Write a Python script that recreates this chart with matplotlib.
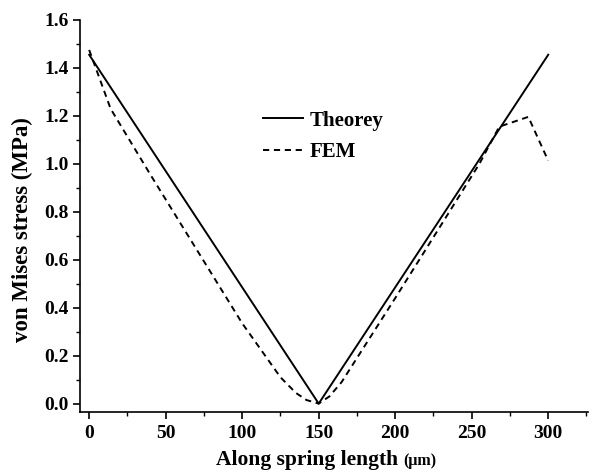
"""
Tensão de von Mises ao longo da mola: teoria x FEM.
"""

import matplotlib
matplotlib.use("Agg")
import matplotlib.pyplot as plt
from matplotlib.ticker import MultipleLocator

# dados
x_teoria = [0, 150, 300]
y_teoria = [1.455, 0.0, 1.455]

x_fem = [0, 14, 40, 70, 100, 125, 135, 142, 150,
         157, 165, 200, 230, 255, 268, 287, 300]
y_fem = [1.475, 1.23, 0.955, 0.645, 0.335, 0.11, 0.045, 0.015, 0.0,
         0.03, 0.09, 0.44, 0.745, 1.0, 1.155, 1.196, 1.013]

plt.rcParams['font.family'] = ['Liberation Serif', 'DejaVu Serif']
plt.rcParams['font.weight'] = 'bold'

fig = plt.figure(figsize=(5.92, 4.72), dpi=100)
ax = fig.add_axes([80 / 592, 1 - 412 / 472, 508 / 592, 392 / 472])

ax.plot(x_teoria, y_teoria, color='black', linewidth=1.4, label='Theorey')
ax.plot(x_fem, y_fem, color='black', linewidth=1.4, linestyle=(0, (3.2, 2.4)), label='FEM')

ax.set_xlim(-6, 326)
ax.set_ylim(-0.035, 1.6)

ax.xaxis.set_major_locator(MultipleLocator(50))
ax.xaxis.set_minor_locator(MultipleLocator(25))
ax.yaxis.set_major_locator(MultipleLocator(0.2))
ax.yaxis.set_minor_locator(MultipleLocator(0.1))
ax.yaxis.set_major_formatter(plt.FormatStrFormatter('%.1f'))

for lado in ['top', 'right']:
    ax.spines[lado].set_visible(False)
for lado in ['left', 'bottom']:
    ax.spines[lado].set_linewidth(1.2)

ax.tick_params(which='major', direction='out', length=5, width=1.2, labelsize=14)
ax.tick_params(which='minor', direction='out', length=3, width=1.0)
ax.tick_params(axis='x', which='major', pad=4)
ax.tick_params(axis='y', which='major', pad=3)

ax.set_ylabel("von Mises stress (MPa)", fontsize=16.5, fontweight='bold')
ax.yaxis.set_label_coords(-47 / 508, (412 - 230) / 392)

# rótulo do eixo x: parte em negrito e unidade menor
fig.text(398 / 592, 1 - 465 / 472, "Along spring length", fontsize=15.5,
         fontweight='bold', ha='right', va='baseline')
fig.text(403 / 592, 1 - 465 / 472, "(\u03bcm)", fontsize=11.5,
         fontweight='bold', ha='left', va='baseline')

ax.legend(loc='upper left', bbox_to_anchor=(244 / 592, 1 - 92 / 472),
          bbox_transform=fig.transFigure, frameon=False, fontsize=15,
          handlelength=1.95, handletextpad=0.3, labelspacing=0.55)

plt.savefig("out.png", dpi=100)
plt.close()
